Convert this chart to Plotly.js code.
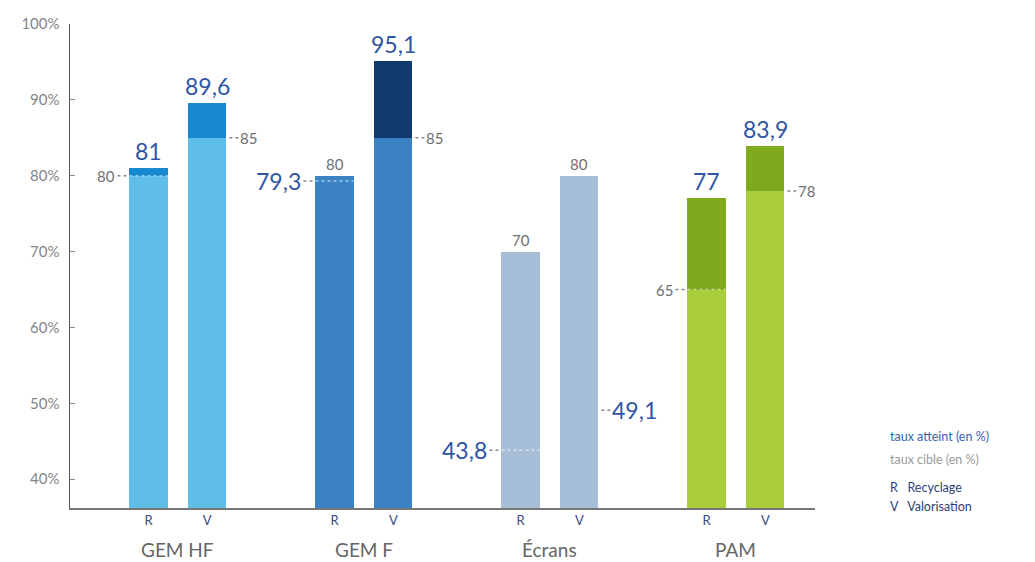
<!DOCTYPE html>
<html>
<head>
<meta charset="utf-8">
<script src="https://cdn.plot.ly/plotly-3.0.1.min.js"></script>
<style>html,body{margin:0;padding:0;background:#fff;}#chart{width:1035px;height:562px;}</style>
</head>
<body>
<div id="chart"></div>
<script>
// ---- data ----
const groups = ['GEM HF', 'GEM F', 'Écrans', 'PAM'];
const subLabels = ['R', 'V'];
const recyclageAtteint = [81, 79.3, 43.8, 77];
const recyclageCible = [80, 80, 70, 65];
const valorisationAtteint = [89.6, 95.1, 49.1, 83.9];
const valorisationCible = [85, 85, 80, 78];
const yTicks = [40, 50, 60, 70, 80, 90, 100];
const yTickLabels = ['40%', '50%', '60%', '70%', '80%', '90%', '100%'];
const legendLines = ['taux atteint (en %)', 'taux cible (en %)', 'R   Recyclage', 'V   Valorisation'];

// ---- styling ----
const lightColors = ['#5ebee8', '#3b82c4', '#a6bed8', '#a9cd3b'];
const darkColors = ['#1888d0', '#123a6e', '#a6bed8', '#7fa91f'];
const BLUE = '#2f55a5', GRAY = '#6f6f6f';
const FONT = 'Lato, "Open Sans", sans-serif';
const OFF = 0.158, W = 0.205, PXU = 186; // px per x unit

const xs = [], baseY = [], capY = [], baseC = [], capC = [], tickText = [];
const annotations = [], shapes = [];
const fmt = v => String(v).replace('.', ',');

groups.forEach((g, i) => {
  [[recyclageAtteint[i], recyclageCible[i]], [valorisationAtteint[i], valorisationCible[i]]].forEach((pair, s) => {
    const [att, tgt] = pair;
    const x = i + (s === 0 ? -OFF : OFF);
    xs.push(x);
    tickText.push(subLabels[s]);
    baseY.push(tgt);
    capY.push(Math.max(0, att - tgt));
    baseC.push(lightColors[i]);
    capC.push(darkColors[i]);
    const top = Math.max(att, tgt);
    const attTop = att >= tgt;
    annotations.push({
      x: x, y: top, xref: 'x', yref: 'y', yanchor: 'bottom', showarrow: false, yshift: 1,
      text: attTop ? fmt(att) : fmt(tgt),
      font: attTop ? {family: FONT, size: 23, color: BLUE} : {family: FONT, size: 15, color: GRAY}
    });
    const sideVal = attTop ? tgt : att;
    const big = !attTop;
    const leftSide = s === 0;
    const edge = leftSide ? x - W / 2 : x + W / 2;
    const dotPx = 12;
    annotations.push({
      x: edge, y: sideVal, xref: 'x', yref: 'y', showarrow: false,
      xanchor: leftSide ? 'right' : 'left', xshift: leftSide ? -dotPx : dotPx,
      text: fmt(sideVal),
      font: big ? {family: FONT, size: 23, color: BLUE} : {family: FONT, size: 15, color: GRAY}
    });
    shapes.push({
      type: 'line', xref: 'x', yref: 'y', y0: sideVal, y1: sideVal,
      x0: edge + (leftSide ? -dotPx / PXU : dotPx / PXU), x1: edge,
      line: {color: '#8a8a8a', width: 1.5, dash: 'dot'}, layer: 'above'
    });
    if (leftSide) {
      shapes.push({
        type: 'line', xref: 'x', yref: 'y', y0: sideVal, y1: sideVal,
        x0: x - W / 2, x1: x + W / 2,
        line: {color: 'rgba(255,255,255,0.55)', width: 1.5, dash: 'dot'}, layer: 'above'
      });
    }
  });
  annotations.push({
    x: i, y: 0, xref: 'x', yref: 'paper', yanchor: 'top', showarrow: false, yshift: -28,
    text: g, font: {family: FONT, size: 19, color: '#666'}
  });
});

const legendColors = ['#3a62ae', '#9a9a9a', '#2c3f78', '#2c3f78'];
const legendY = [0.147, 0.100, 0.043, 0.004];
legendLines.forEach((t, k) => {
  annotations.push({
    x: 1.098, y: legendY[k], xref: 'paper', yref: 'paper', xanchor: 'left', yanchor: 'middle',
    showarrow: false, text: t, font: {family: FONT, size: 12.5, color: legendColors[k]}
  });
});

const traces = [
  {type: 'bar', x: xs, y: baseY, width: W, marker: {color: baseC}, hoverinfo: 'skip'},
  {type: 'bar', x: xs, y: capY, width: W, marker: {color: capC}, hoverinfo: 'skip'}
];

const layout = {
  width: 1035, height: 562,
  margin: {l: 70, r: 220, t: 24, b: 54},
  paper_bgcolor: '#fff', plot_bgcolor: '#fff',
  barmode: 'stack', showlegend: false,
  font: {family: FONT},
  xaxis: {
    range: [-0.58, 3.425], showgrid: false, zeroline: false, showline: true,
    linecolor: '#777', linewidth: 1.5, tickvals: xs, ticktext: tickText, ticks: '',
    tickfont: {family: FONT, size: 13, color: '#3b4a7a'}, fixedrange: true
  },
  yaxis: {
    range: [36.2, 100], showgrid: false, zeroline: false, showline: true,
    linecolor: '#555', linewidth: 1.5, tickvals: yTicks, ticktext: yTickLabels,
    ticks: 'inside', ticklen: 5, tickcolor: '#888', ticklabelstandoff: 6,
    tickfont: {family: FONT, size: 15, color: '#858585'}, fixedrange: true
  },
  annotations: annotations,
  shapes: shapes
};

Plotly.newPlot('chart', traces, layout, {displayModeBar: false, staticPlot: true});
</script>
</body>
</html>
